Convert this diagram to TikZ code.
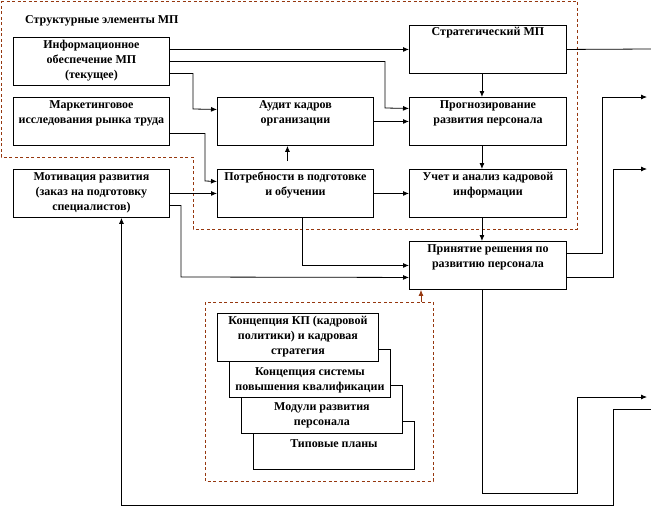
\documentclass[tikz,border=0pt]{standalone}
\usepackage{fontspec}
\setmainfont{Liberation Serif}
\usetikzlibrary{arrows.meta,calc}
\definecolor{dbrown}{RGB}{150,55,15}
\tikzset{
  box/.style={draw=black,line width=0.9pt,fill=white,rectangle,inner sep=0pt,anchor=north west,minimum height=48pt},
  wbox/.style={box,minimum width=156pt},
  sbox/.style={box,minimum width=161pt},
  txt/.style={align=center,inner sep=0pt,anchor=north,font=\rmfamily\bfseries\fontsize{12}{15}\selectfont},
  arr/.style={line width=0.8pt,-{Latex[length=6pt,width=5pt]}},
  ln/.style={line width=0.8pt},
  dsh/.style={draw=dbrown,line width=0.8pt,dash pattern=on 3pt off 2.5pt}
}
\begin{document}
\begin{tikzpicture}[x=1pt,y=-1pt]
\useasboundingbox (0,0) rectangle (651,506);
% dashed region
\draw[dsh] (1,1) -- (577,1) -- (577,229) -- (193,229) -- (193,157) -- (1,157) -- cycle;
\node[txt,anchor=north west] (title) at (25,15) {Структурные элементы МП};
% left column
\node[wbox] (info) at (13,37) {};
\node[txt] (infot) at ($(info.north)+(0,3)$) {Информационное\\обеспечение МП\\(текущее)};
\node[wbox] (market) at (13,97) {};
\node[txt] (markett) at ($(market.north)+(0,3)$) {Маркетинговое\\исследования рынка труда};
\node[wbox] (motiv) at (13,169) {};
\node[txt] (motivt) at ($(motiv.north)+(0,3)$) {Мотивация развития\\(заказ на подготовку\\специалистов)};
% middle column
\node[wbox] (audit) at (217,97) {};
\node[txt] (auditt) at ($(audit.north)+(0,3)$) {Аудит кадров\\организации};
\node[wbox] (need) at (217,169) {};
\node[txt] (needt) at ($(need.north)+(0,3)$) {Потребности в подготовке\\и обучении};
% right column
\node[box,minimum width=157pt] (strat) at (409,25) {};
\node[txt] (stratt) at ($(strat.north)+(0,2)$) {Стратегический МП};
\node[box,minimum width=157pt] (fore) at (409,97) {};
\node[txt] (foret) at ($(fore.north)+(0,3)$) {Прогнозирование\\развития персонала};
\node[box,minimum width=157pt] (acc) at (409,169) {};
\node[txt] (acct) at ($(acc.north)+(0,3)$) {Учет и анализ кадровой\\информации};
\node[box,minimum width=157pt] (dec) at (409,241) {};
\node[txt] (dect) at ($(dec.north)+(0,3)$) {Принятие решения по\\развитию персонала};
% lower dashed box and stack
\draw[dsh] (205,302) rectangle (433,481);
\coordinate (stacktop) at (421,302);
\node[sbox] (pd) at (253,421) {};
\node[sbox] (pc) at (241,385) {};
\node[sbox] (pb) at (229,349) {};
\node[sbox] (pa) at (217,313) {};
\node[txt] (pat) at ($(pa.north)+(0,3)$) {Концепция КП (кадровой\\политики) и кадровая\\стратегия};
\node[txt] (pbt) at ($(pb.north)+(0,18)$) {Концепция системы\\повышения квалификации};
\node[txt] (pct) at ($(pc.north)+(0,17)$) {Модули развития\\персонала};
\node[txt] (pdt) at ($(pd.north)+(0,18)$) {Типовые планы};
% connectors
\draw[arr] ([yshift=12pt]info.east) -- (strat.west);
\draw[arr] (info.east) -| (385,108) -- ([yshift=13pt]fore.west);
\draw[arr] ([yshift=-12pt]info.east) -| (193,109) -- ([yshift=12pt]audit.west);
\draw[arr] ([yshift=-12pt]market.east) -| (205,181) -- ([yshift=12pt]need.west);
\draw[arr] (motiv.east) -- (need.west);
\draw[arr] ([yshift=-12pt]motiv.east) -| (181,277) -- ([yshift=-12pt]dec.west);
\draw[arr] ([xshift=7pt]need.south) |- (dec.west);
\draw[arr] ([xshift=-8pt,yshift=8pt]need.north) -- ([xshift=-8pt]audit.south);
\draw[arr] (audit.east) -- (fore.west);
\draw[arr] (need.east) -- (acc.west);
\draw[arr] ([xshift=-6pt]strat.south) -- ([xshift=-6pt]fore.north);
\draw[arr] ([xshift=-6pt]fore.south) -- ([xshift=-6pt]acc.north);
\draw[arr] ([xshift=-6pt]acc.south) -- ([xshift=-6pt]dec.north);
\coordinate (outA) at (651,49);
\draw[ln] (strat.east) -- (outA);
\coordinate (outB) at (647,97);
\draw[arr] ([yshift=12pt]dec.east) -| (602,97) -- (outB);
\coordinate (outC) at (647,169);
\draw[arr] ([yshift=-12pt]dec.east) -| (613,169) -- (outC);
\coordinate (outD) at (647,397);
\draw[arr] ([xshift=-6pt]dec.south) |- (577,493) |- (outD);
\coordinate (inE) at (651,409);
\draw[arr] (inE) -| (613,505) -| ([xshift=30pt]motiv.south);
\draw[line width=0.8pt,draw=dbrown,-{Latex[length=6pt,width=5pt]}] (stacktop) -- (stacktop |- dec.south);
\end{tikzpicture}
\end{document}
